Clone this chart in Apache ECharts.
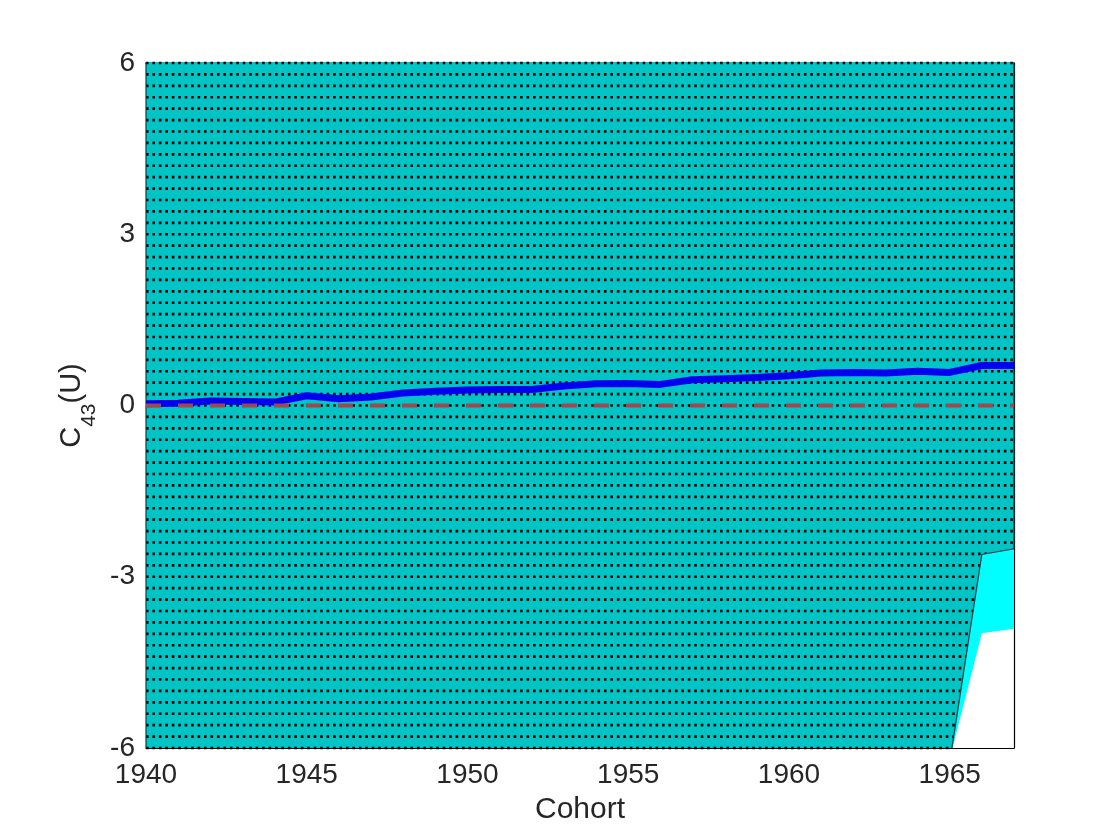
<!DOCTYPE html>
<html>
<head>
<meta charset="utf-8">
<script src="https://cdn.jsdelivr.net/npm/echarts@6/dist/echarts.min.js"></script>
<style>
html,body{margin:0;padding:0;background:#ffffff;}
#chart{width:1120px;height:840px;}
</style>
</head>
<body>
<div id="chart"></div>
<script>
// ---- data ----
const years = [1940,1941,1942,1943,1944,1945,1946,1947,1948,1949,1950,1951,1952,1953,
               1954,1955,1956,1957,1958,1959,1960,1961,1962,1963,1964,1965,1966,1967];
const estimate = [0.03,0.04,0.08,0.07,0.06,0.17,0.12,0.15,0.22,0.25,0.27,0.28,0.28,0.34,
                  0.38,0.385,0.37,0.45,0.47,0.49,0.52,0.57,0.58,0.57,0.60,0.58,0.70,0.70];
// inner (hatched, teal) confidence band — beyond the axis limits except at the end
const innerLow  = [-8,-8,-8,-8,-8,-8,-8,-8,-8,-8,-8,-8,-8,-8,
                   -8,-8,-8,-8,-8,-8,-8,-8,-8,-8,-8,-6.25,-2.61,-2.51];
const innerHigh = [8,8,8,8,8,8,8,8,8,8,8,8,8,8,
                   8,8,8,8,8,8,8,8,8,8,8,8,8,8];
// outer (bright cyan) confidence band
const outerLow  = [-9,-9,-9,-9,-9,-9,-9,-9,-9,-9,-9,-9,-9,-9,
                   -9,-9,-9,-9,-9,-9,-9,-9,-9,-9,-9,-6.2,-3.99,-3.91];
const outerHigh = [9,9,9,9,9,9,9,9,9,9,9,9,9,9,
                   9,9,9,9,9,9,9,9,9,9,9,9,9,9];
const zeroLevel = 0;
const xTickLabels = [1940,1945,1950,1955,1960,1965];
const yTickLabels = [-6,-3,0,3,6];
const hatchStep = 0.2;

// ---- styling ----
const xMin = 1940, xMax = 1967, yMin = -6, yMax = 6;
const TEAL = '#03C4C4';
const CYAN = '#00FFFF';
const EDGE = '#123c44';
const TXT = '#262626';
const FONT = '"Liberation Sans", Arial, Helvetica, sans-serif';

const chart = echarts.init(document.getElementById('chart'), null, {renderer: 'canvas'});

function bandRender(params, api) {
  const cs = params.coordSys;
  const pad = 1;
  const rect = () => ({type: 'rect', shape: {x: cs.x - pad, y: cs.y - pad, width: cs.width + 2 * pad, height: cs.height + pad}});
  function poly(lo, hi) {
    const pts = [];
    for (let i = 0; i < years.length; i++) pts.push(api.coord([years[i], lo[i]]));
    for (let i = years.length - 1; i >= 0; i--) pts.push(api.coord([years[i], hi[i]]));
    return pts;
  }
  const outerPts = poly(outerLow, outerHigh);
  const innerPts = poly(innerLow, innerHigh);
  const hatch = [];
  const n = Math.round((yMax - yMin) / hatchStep);
  for (let k = 0; k <= n; k++) {
    const v = yMin + k * hatchStep;
    const a = api.coord([xMin, v]);
    const b = api.coord([xMax, v]);
    hatch.push({
      type: 'line',
      shape: {x1: a[0], y1: a[1], x2: b[0], y2: b[1]},
      style: {stroke: '#000000', lineWidth: 2.6, lineDash: [2.6, 3.85], fill: null}
    });
  }
  return {
    type: 'group',
    children: [
      {type: 'group', clipPath: rect(), children: [
        {type: 'polygon', shape: {points: outerPts}, style: {fill: CYAN, stroke: null}},
        {type: 'polygon', shape: {points: innerPts}, style: {fill: TEAL, stroke: null}}
      ]},
      {type: 'group', clipPath: {type: 'polygon', shape: {points: innerPts}}, children: hatch},
      {type: 'group', clipPath: rect(), children: [
        {type: 'polygon', shape: {points: innerPts}, style: {fill: null, stroke: EDGE, lineWidth: 1.2}}
      ]}
    ]
  };
}

const option = {
  backgroundColor: '#ffffff',
  animation: false,
  grid: {left: 146, right: 106, top: 63, bottom: 92, containLabel: false},
  xAxis: [{
    type: 'value', min: xMin, max: xMax, interval: 5,
    axisLine: {show: true, onZero: false, lineStyle: {color: '#000000', width: 1.2}},
    axisTick: {show: false},
    splitLine: {show: false},
    axisLabel: {
      color: TXT, fontFamily: FONT, fontSize: 28, margin: 13,
      formatter: v => (xTickLabels.indexOf(v) >= 0 ? String(v) : '')
    },
    name: 'Cohort', nameLocation: 'middle', nameGap: 47,
    nameTextStyle: {color: TXT, fontFamily: FONT, fontSize: 30}
  }, {
    type: 'value', min: xMin, max: xMax, position: 'top',
    axisLine: {show: true, onZero: false, lineStyle: {color: '#000000', width: 1}},
    axisTick: {show: false}, axisLabel: {show: false}, splitLine: {show: false}
  }],
  yAxis: [{
    type: 'value', min: yMin, max: yMax, interval: 3,
    axisLine: {show: true, onZero: false, lineStyle: {color: '#000000', width: 1}},
    axisTick: {show: false},
    splitLine: {show: false},
    axisLabel: {
      color: TXT, fontFamily: FONT, fontSize: 28, margin: 11,
      formatter: v => (yTickLabels.indexOf(v) >= 0 ? String(v) : '')
    },
    name: '{m|C}{s|43}{m|(U)}', nameLocation: 'middle', nameGap: 50,
    nameTextStyle: {
      color: TXT, fontFamily: FONT,
      rich: {
        m: {fontSize: 29, lineHeight: 29, verticalAlign: 'top', color: TXT, fontFamily: FONT},
        s: {fontSize: 21, lineHeight: 21, verticalAlign: 'top', padding: [21, 0, 0, 0], color: TXT, fontFamily: FONT}
      }
    }
  }, {
    type: 'value', min: yMin, max: yMax, position: 'right',
    axisLine: {show: true, onZero: false, lineStyle: {color: '#000000', width: 1.2}},
    axisTick: {show: false}, axisLabel: {show: false}, splitLine: {show: false}
  }],
  series: [
    {
      type: 'custom', name: 'bands', silent: true,
      coordinateSystem: 'cartesian2d',
      data: [[xMin, 0]],
      encode: {x: 0, y: 1},
      renderItem: bandRender,
      z: 1
    },
    {
      type: 'line', name: 'estimate', silent: true,
      data: years.map((y, i) => [y, estimate[i]]),
      showSymbol: false, symbol: 'none',
      lineStyle: {color: '#0000F0', width: 7, cap: 'butt', join: 'round'},
      z: 3
    },
    {
      type: 'line', name: 'zero', silent: true,
      data: [[xMin, zeroLevel], [xMax, zeroLevel]],
      showSymbol: false, symbol: 'none',
      lineStyle: {color: '#A8454B', width: 4, type: [15, 17]},
      z: 4
    }
  ]
};
chart.setOption(option);
</script>
</body>
</html>
